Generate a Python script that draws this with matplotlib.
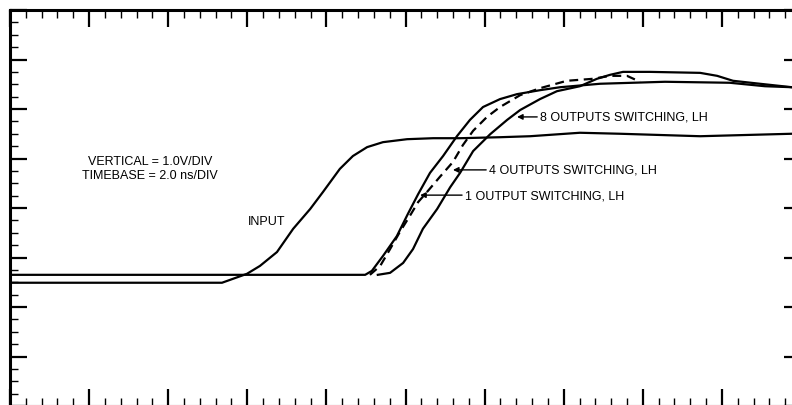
import matplotlib
matplotlib.use('Agg')
import matplotlib.pyplot as plt
from matplotlib.ticker import MultipleLocator

# time in ns (2 ns/div), voltage in V (1 V/div)
input_t = [0.0, 5.36, 5.99, 6.32, 6.75, 7.16, 7.59, 7.91, 8.34, 8.67, 9.03, 9.43,
           10.04, 10.70, 11.38, 12.39, 13.15, 14.41, 15.42, 17.45, 19.77, 20.0]
input_v = [2.49, 2.49, 2.67, 2.83, 3.11, 3.58, 3.98, 4.32, 4.79, 5.05, 5.23, 5.33,
           5.39, 5.41, 5.41, 5.43, 5.45, 5.52, 5.50, 5.45, 5.50, 5.50]

out1_t = [0.0, 8.98, 9.15, 9.43, 9.78, 10.06, 10.32, 10.62, 10.95, 11.30, 11.63,
          11.96, 12.39, 12.82, 13.40, 13.91, 14.92, 16.56, 18.20, 19.09, 19.77, 20.0]
out1_v = [2.65, 2.65, 2.73, 3.03, 3.43, 3.88, 4.28, 4.71, 5.05, 5.45, 5.78,
          6.04, 6.20, 6.30, 6.38, 6.44, 6.51, 6.55, 6.53, 6.46, 6.44, 6.44]

out4_t = [9.10, 9.36, 9.61, 9.86, 10.11, 10.32, 10.54, 10.87, 11.20, 11.45, 11.71,
          12.06, 12.39, 12.90, 13.40, 14.08, 14.74, 15.17, 15.60, 15.93]
out4_v = [2.65, 2.83, 3.17, 3.52, 3.84, 4.12, 4.32, 4.63, 4.93, 5.27, 5.56,
          5.84, 6.04, 6.28, 6.42, 6.57, 6.61, 6.67, 6.67, 6.55]

out8_t = [9.30, 9.61, 9.94, 10.19, 10.44, 10.80, 11.13, 11.38, 11.71, 12.14, 12.57,
          12.90, 13.40, 13.83, 14.41, 14.84, 15.17, 15.50, 16.18, 17.45, 17.88,
          18.28, 18.96, 19.77, 20.0]
out8_v = [2.65, 2.69, 2.89, 3.17, 3.58, 3.98, 4.42, 4.71, 5.15, 5.49, 5.78,
          5.98, 6.20, 6.36, 6.46, 6.61, 6.69, 6.75, 6.75, 6.73, 6.67,
          6.57, 6.51, 6.44, 6.44]

font = ['Liberation Sans', 'DejaVu Sans']

fig = plt.figure(figsize=(7.92, 4.06), dpi=100)
ax = fig.add_axes([10 / 792, -1 / 406, 791 / 792, 396 / 406])
ax.set_xlim(0, 20)
ax.set_ylim(0, 8)

ax.plot(input_t, input_v, color='black', lw=1.6, solid_joinstyle='round')
ax.plot(out1_t, out1_v, color='black', lw=1.6, solid_joinstyle='round')
ax.plot(out4_t, out4_v, color='black', lw=1.6, linestyle=(0, (4, 2.5)))
ax.plot(out8_t, out8_v, color='black', lw=1.6, solid_joinstyle='round')

ax.xaxis.set_major_locator(MultipleLocator(2))
ax.xaxis.set_minor_locator(MultipleLocator(0.4))
ax.yaxis.set_major_locator(MultipleLocator(1))
ax.yaxis.set_minor_locator(MultipleLocator(0.25))
ax.tick_params(which='both', direction='in', top=True, bottom=True, left=True, right=True,
               labelbottom=False, labelleft=False, color='black')
ax.tick_params(which='major', length=12, width=1.6)
ax.tick_params(which='minor', length=5.8, width=1.0)
for sp in ax.spines.values():
    sp.set_linewidth(2.2)

ax.text(3.54, 4.95, 'VERTICAL = 1.0V/DIV', ha='center', va='center', fontsize=9, family=font)
ax.text(3.54, 4.67, 'TIMEBASE = 2.0 ns/DIV', ha='center', va='center', fontsize=9, family=font)
ax.text(6.50, 3.74, 'INPUT', ha='center', va='center', fontsize=9, family=font)

arrow = dict(arrowstyle='-|>', color='black', lw=1.0, mutation_scale=8, shrinkA=0, shrinkB=0)
ax.annotate('8 OUTPUTS SWITCHING, LH', xy=(12.82, 5.84), xytext=(13.40, 5.84),
            ha='left', va='center', fontsize=9, family=font, arrowprops=arrow)
ax.annotate('4 OUTPUTS SWITCHING, LH', xy=(11.20, 4.77), xytext=(12.11, 4.77),
            ha='left', va='center', fontsize=9, family=font, arrowprops=arrow)
ax.annotate('1 OUTPUT SWITCHING, LH', xy=(10.37, 4.26), xytext=(11.50, 4.26),
            ha='left', va='center', fontsize=9, family=font, arrowprops=arrow)

plt.savefig('out.png', dpi=100)
